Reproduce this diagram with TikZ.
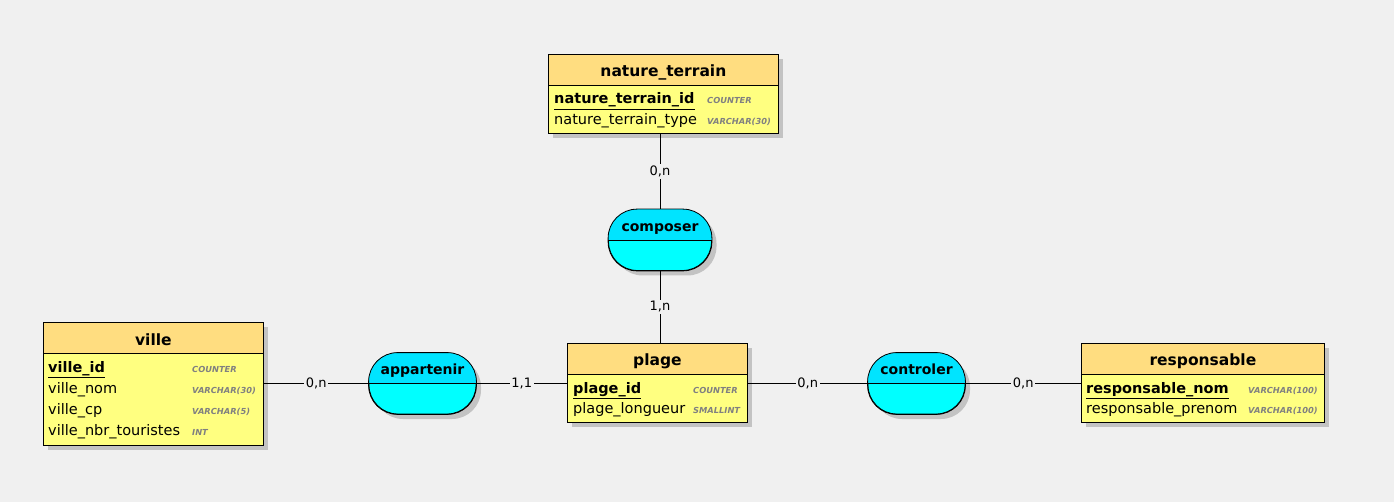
\documentclass[tikz,border=0pt]{standalone}
\usepackage{fontspec}
\setmainfont{DejaVu Sans}
\usetikzlibrary{calc,shadows}
\definecolor{bg}{RGB}{240,240,240}
\definecolor{hdr}{RGB}{255,221,128}
\definecolor{bdy}{RGB}{255,255,128}
\definecolor{ascup}{RGB}{0,228,255}
\definecolor{asclo}{RGB}{0,255,255}
\definecolor{shd}{RGB}{195,195,195}
\definecolor{typ}{RGB}{128,128,128}
\tikzset{
  shad/.style={drop shadow={shadow xshift=5pt,shadow yshift=-5pt,fill=shd,opacity=1}},
  ent/.style={draw=black,line width=0.8pt,fill=bdy,inner sep=0pt,shad},
  ttl/.style={font=\fontsize{15.5}{15.5}\selectfont\bfseries,anchor=base,inner sep=0pt},
  attr/.style={font=\fontsize{14.5}{14.5}\selectfont,anchor=base west,inner sep=0pt},
  key/.style={font=\fontsize{14.5}{14.5}\selectfont\bfseries,anchor=base west,inner sep=0pt},
  typl/.style={font=\fontsize{8.3}{8.3}\selectfont\bfseries\itshape,text=typ,anchor=base west,inner sep=0pt},
  assoc/.style={draw=black,line width=0.8pt,fill=asclo,rounded corners=29pt,inner sep=0pt,minimum height=61pt,shad},
  albl/.style={font=\fontsize{14}{14}\selectfont\bfseries,anchor=base,inner sep=0pt},
  link/.style={draw=black,line width=0.8pt},
  card/.style={font=\fontsize{13}{13}\selectfont,fill=bg,inner sep=1.5pt,midway},
}
\newcommand\entbox[5]{%
  \node[ent,minimum width=#4,minimum height=#5,anchor=north west] (#1) at (#2,#3) {};
  \fill[hdr] (#1.north west) rectangle ([yshift=-31pt]#1.north east);
  \draw[line width=0.8pt] ([yshift=-31pt]#1.north west) -- ([yshift=-31pt]#1.north east);
  \draw[line width=0.8pt] (#1.north west) rectangle (#1.south east);
}
\newcommand\assocbox[4]{%
  \node[assoc,minimum width=#4] (#1) at (#2,#3) {};
  \begin{scope}
    \clip[rounded corners=29pt] (#1.south west) rectangle (#1.north east);
    \fill[ascup] (#1.north west) rectangle (#1.east);
  \end{scope}
  \draw[line width=0.8pt,rounded corners=29pt] (#1.south west) rectangle (#1.north east);
  \draw[line width=0.8pt] (#1.west) -- (#1.east);
}
\begin{document}
\begin{tikzpicture}[x=1pt,y=-1pt]
\fill[bg] (0,0) rectangle (1394,502);
\useasboundingbox (0,0) rectangle (1394,502);

% nature_terrain
\entbox{nt}{548}{54}{230}{79}
\node[ttl] (ntt) at ($(nt.north)+(0,23)$) {nature\_terrain};
\node[key] (nt1) at ($(nt.north west)+(6,50)$) {\underline{nature\_terrain\_id}};
\node[typl] (nt1t) at ($(nt.north west)+(159,50)$) {COUNTER};
\node[attr] (nt2) at ($(nt.north west)+(6,70.5)$) {nature\_terrain\_type};
\node[typl] (nt2t) at ($(nt.north west)+(159,70.5)$) {VARCHAR(30)};

% ville
\entbox{vi}{43}{322}{220}{123}
\node[ttl] (vit) at ($(vi.north)+(0,23)$) {ville};
\node[key] (vi1) at ($(vi.north west)+(5,50)$) {\underline{ville\_id}};
\node[typl] (vi1t) at ($(vi.north west)+(149,50)$) {COUNTER};
\node[attr] (vi2) at ($(vi.north west)+(5,71)$) {ville\_nom};
\node[typl] (vi2t) at ($(vi.north west)+(149,71)$) {VARCHAR(30)};
\node[attr] (vi3) at ($(vi.north west)+(5,92)$) {ville\_cp};
\node[typl] (vi3t) at ($(vi.north west)+(149,92)$) {VARCHAR(5)};
\node[attr] (vi4) at ($(vi.north west)+(5,113)$) {ville\_nbr\_touristes};
\node[typl] (vi4t) at ($(vi.north west)+(149,113)$) {INT};

% plage
\entbox{pl}{567}{343}{180}{79}
\node[ttl] (plt) at ($(pl.north)+(0,23)$) {plage};
\node[key] (pl1) at ($(pl.north west)+(6,50)$) {\underline{plage\_id}};
\node[typl] (pl1t) at ($(pl.north west)+(126,50)$) {COUNTER};
\node[attr] (pl2) at ($(pl.north west)+(6,70.5)$) {plage\_longueur};
\node[typl] (pl2t) at ($(pl.north west)+(126,70.5)$) {SMALLINT};

% responsable
\entbox{re}{1081}{343}{243}{79}
\node[ttl] (ret) at ($(re.north)+(0,23)$) {responsable};
\node[key] (re1) at ($(re.north west)+(5,50)$) {\underline{responsable\_nom}};
\node[typl] (re1t) at ($(re.north west)+(167,50)$) {VARCHAR(100)};
\node[attr] (re2) at ($(re.north west)+(5,70.5)$) {responsable\_prenom};
\node[typl] (re2t) at ($(re.north west)+(167,70.5)$) {VARCHAR(100)};

% associations
\assocbox{co}{660}{240}{103}
\node[albl] (col) at ($(co.north)+(0,22)$) {composer};
\assocbox{ap}{422.5}{383.5}{107}
\node[albl] (apl) at ($(ap.north)+(0,22)$) {appartenir};
\assocbox{ct}{916.5}{383.5}{97}
\node[albl] (ctl) at ($(ct.north)+(0,22)$) {controler};

% links
\draw[link] (nt.south -| co.north) -- node[card] {0,n} (co.north);
\draw[link] (co.south) -- node[card] {1,n} (co.south |- pl.north);
\draw[link] (vi.east |- ap.west) -- node[card] {0,n} (ap.west);
\draw[link] (ap.east) -- node[card] {1,1} (ap.east -| pl.west);
\draw[link] (pl.east |- ct.west) -- node[card] {0,n} (ct.west);
\draw[link] (ct.east) -- node[card] {0,n} (ct.east -| re.west);
\end{tikzpicture}
\end{document}
